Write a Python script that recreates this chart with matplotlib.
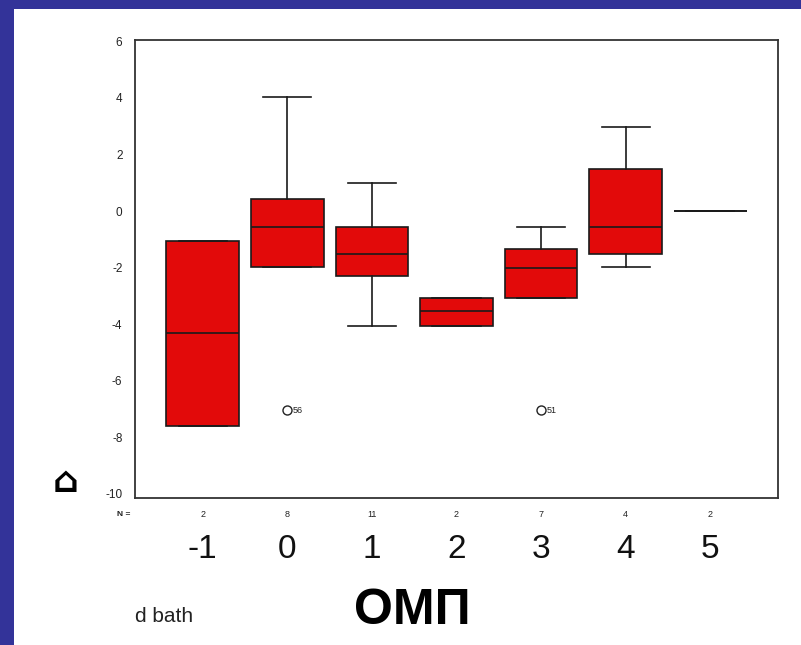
import numpy as np
import matplotlib.pyplot as plt
from matplotlib.patches import Rectangle

plt.rcParams['font.family'] = ['Liberation Sans', 'DejaVu Sans']
plt.rcParams['axes.unicode_minus'] = False

# data
groups = [-1, 0, 1, 2, 3, 4, 5]
n_counts = [2, 8, 11, 2, 7, 4, 2]
whislo = [-7.6, -1.98, -4.07, -4.07, -3.08, -1.98, 0.0]
q1 = [-7.6, -1.98, -2.30, -4.07, -3.08, -1.52, 0.0]
med = [-4.32, -0.57, -1.52, -3.54, -2.02, -0.57, 0.0]
q3 = [-1.06, 0.42, -0.57, -3.08, -1.35, 1.49, 0.0]
whishi = [-1.06, 4.04, 0.99, -3.08, -0.57, 2.97, 0.0]
outlier_group = [0, 3]
outlier_value = [-7.04, -7.04]
outlier_case = ['56', '51']
yticks = [6, 4, 2, 0, -2, -4, -6, -8, -10]

stats = []
for i, g in enumerate(groups):
    fl = [v for og, v in zip(outlier_group, outlier_value) if og == g]
    stats.append(dict(whislo=whislo[i], q1=q1[i], med=med[i], q3=q3[i],
                      whishi=whishi[i], fliers=fl))

fig = plt.figure(figsize=(8.01, 6.45), dpi=100)
fig.patch.set_facecolor('#333399')
fig.add_artist(Rectangle((14 / 801, 0), 1, 1 - 9 / 645, transform=fig.transFigure,
                         facecolor='white', edgecolor='none', zorder=-5))

ax = fig.add_axes([135 / 801, 1 - 498 / 645, 643 / 801, 458 / 645])
ax.bxp(stats, positions=groups, widths=0.86, capwidths=0.57, patch_artist=True,
       boxprops=dict(facecolor='#e20a0a', edgecolor='#1a1a1a', linewidth=1.2),
       medianprops=dict(color='#1a1a1a', linewidth=1.2),
       whiskerprops=dict(color='#1a1a1a', linewidth=1.2),
       capprops=dict(color='#1a1a1a', linewidth=1.2),
       flierprops=dict(marker='o', markerfacecolor='none', markeredgecolor='#222222',
                       markersize=6.5, markeredgewidth=1.0))

for g, v, c in zip(outlier_group, outlier_value, outlier_case):
    ax.annotate(c, (g, v), xytext=(4, 0), textcoords='offset points',
                ha='left', va='center', fontsize=6.5, color='#222222')

ax.set_xlim(-1.8, 5.8)
ax.set_ylim(-10.15, 6.05)
ax.set_yticks(yticks)
ax.set_xticks([])
ax.tick_params(axis='y', length=0, pad=9, labelsize=8.5, colors='#222222')
for s in ax.spines.values():
    s.set_color('#333333')
    s.set_linewidth(1.3)

trans = ax.get_xaxis_transform()
ax.text(-0.018, -0.035, 'N =', transform=ax.transAxes, ha='center', va='center',
        fontsize=6, fontweight='bold', color='#222222')
for g, n in zip(groups, n_counts):
    ax.text(g, -0.035, str(n), transform=trans, ha='center', va='center',
            fontsize=6.5, color='#222222')
    ax.text(g, -0.1135, str(g), transform=trans, ha='center', va='center',
            fontsize=24, color='#111111')

fig.text(135 / 801, 1 - 617 / 645, 'd bath', ha='left', va='center',
         fontsize=15, color='#222222')
fig.text(412 / 801, 1 - 611 / 645, 'ОМП', ha='center', va='center',
         fontsize=36, fontweight='bold', color='black')
fig.text(66 / 801, 1 - 482 / 645, '⌂', ha='center', va='center',
         fontsize=26, fontweight='bold', color='black', family='DejaVu Sans')

plt.savefig('out.png', dpi=100, facecolor=fig.get_facecolor())
